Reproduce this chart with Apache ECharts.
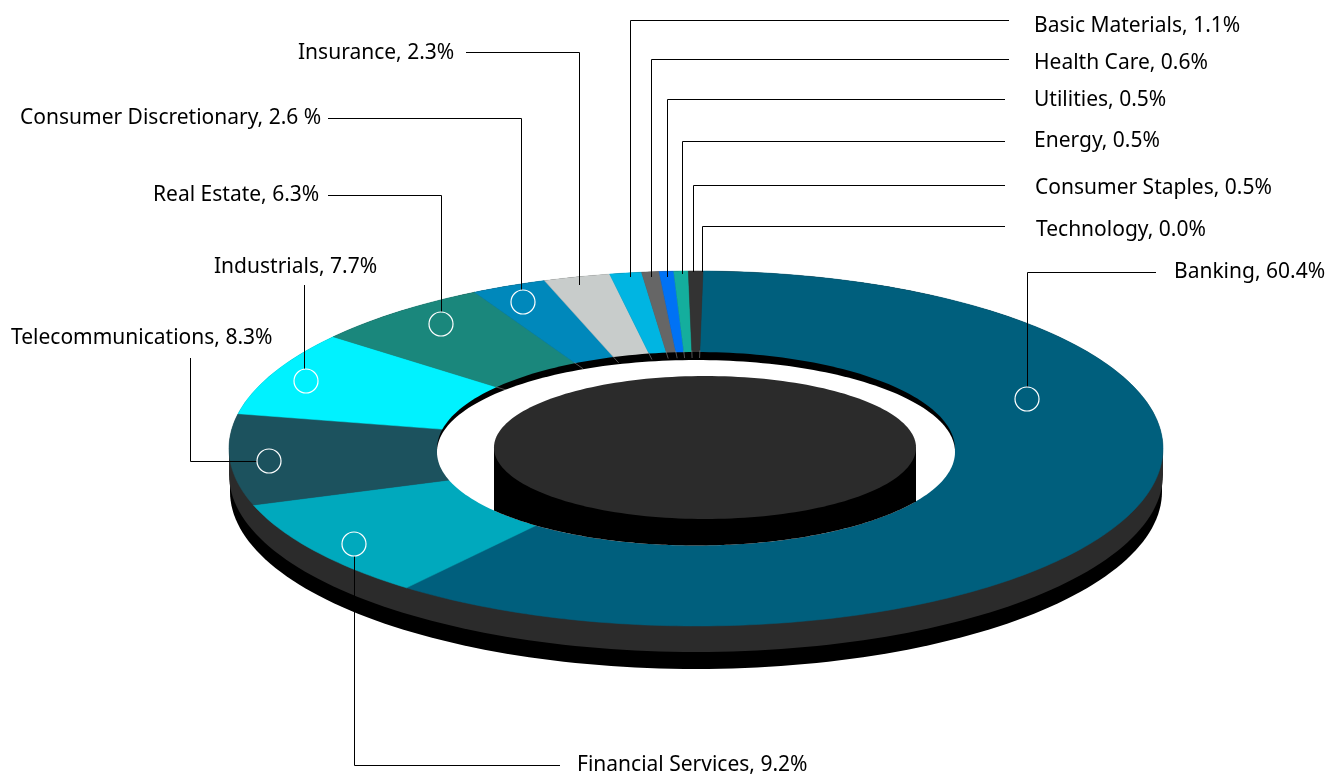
<!DOCTYPE html>
<html>
<head>
<meta charset="utf-8">
<style>html,body{margin:0;padding:0;background:#fff}#c{width:1327px;height:775px}</style>
<script src="https://cdn.jsdelivr.net/npm/echarts@6/dist/echarts.min.js"></script>
</head>
<body>
<div id="c"></div>
<script>
// ---- data ----
const categories = ['Banking','Financial Services','Telecommunications','Industrials','Real Estate','Consumer Discretionary','Insurance','Basic Materials','Health Care','Utilities','Energy','Consumer Staples','Technology'];
const shares = [60.4,9.2,8.3,7.7,6.3,2.6,2.3,1.1,0.6,0.5,0.5,0.5,0.0];
const labels = ['Banking, 60.4%','Financial Services, 9.2%','Telecommunications, 8.3%','Industrials, 7.7%','Real Estate, 6.3%','Consumer Discretionary, 2.6 %','Insurance, 2.3%','Basic Materials, 1.1%','Health Care, 0.6%','Utilities, 0.5%','Energy, 0.5%','Consumer Staples, 0.5%','Technology, 0.0%'];

// ---- styles ----
const colors = ['#005f7d','#00a9bd','#1c525e','#00f2ff','#1a877c','#0088bb','#c8cccb','#00b5e2','#666666','#0072f5','#14ae9d','#333333','#333333'];
const FONT = '21px "Noto Sans"';

// ---- layout (plot coordinates) ----
const D = {cx:696, cy:448.5, rx:467, ry:177.5, inner:0.5, hole:0.555, start:0.86};
// annotation layout per category: elbow path, marker, text anchor
const annot = [
  {path:[[1027.5,387],[1027.5,272.5],[1156,272.5]], mark:[1027,399], text:[1174,272]},
  {path:[[354.5,556],[354.5,765.5],[560,765.5]], mark:[354,544], text:[577,765]},
  {path:[[257,461.5],[190.5,461.5],[190.5,358]], mark:[269,461], text:[11,338]},
  {path:[[304.5,369],[304.5,285]], mark:[306,381], text:[214,267]},
  {path:[[441.5,312],[441.5,195.5],[328,195.5]], mark:[441,324], text:[153,195]},
  {path:[[521.5,290],[521.5,118.5],[328,118.5]], mark:[523,302], text:[20,118]},
  {path:[[579.5,285],[579.5,52.5],[466,52.5]], text:[298,53]},
  {path:[[630.5,277],[630.5,20.5],[1009,20.5]], text:[1034,26]},
  {path:[[651.5,277],[651.5,59.5],[1009,59.5]], text:[1034,63]},
  {path:[[667.5,277],[667.5,99.5],[1005,99.5]], text:[1034,100]},
  {path:[[682.5,274],[682.5,141.5],[1005,141.5]], text:[1034,141]},
  {path:[[693.5,272],[693.5,185.5],[1005,185.5]], text:[1035,188]},
  {path:[[702.5,272],[702.5,226.5],[1005,226.5]], text:[1036,230]}
];

function ell(cx,cy,rx,ry,a0,a1,n){ // degrees clockwise from top
  const pts=[];
  for(let i=0;i<=n;i++){
    const a=(a0+(a1-a0)*i/n)*Math.PI/180;
    pts.push([cx+rx*Math.sin(a),cy-ry*Math.cos(a)]);
  }
  return pts;
}
function poly(api,pts,fill,stroke,lw){
  return {type:'polygon',shape:{points:pts.map(p=>api.coord(p))},
    style:{fill:fill,stroke:stroke||null,lineWidth:lw||0}};
}
function cumul(i){
  let s=0; for(let k=0;k<i;k++) s+=shares[k];
  return D.start+s/100*360;
}

function renderBase(params,api){
  const band=(dy,rx,c)=>poly(api,
    ell(D.cx,D.cy,rx,D.ry,-90,90,60).concat(ell(D.cx,D.cy+dy,rx,D.ry,90,270,120)),c);
  return {type:'group',children:[band(43,466,'#000000'),band(26,467,'#2b2b2b')]};
}
function renderSlice(params,api){
  const i=params.dataIndex;
  const v=api.value(0);
  if(!(v>0)) return {type:'group',children:[]};
  const a0=cumul(i), a1=a0+v/100*360;
  const n=Math.max(4,Math.ceil((a1-a0)));
  const outer=ell(D.cx,D.cy,D.rx,D.ry,a0,a1,n);
  const inn=ell(D.cx,D.cy,D.rx*D.inner,D.ry*D.inner,a1,a0,n);
  return poly(api,outer.concat(inn),colors[i],colors[i],0.5);
}
function renderHole(params,api){
  const kids=[];
  // black lip (upper inner wall)
  kids.push(poly(api,ell(696,449,259,97,-90,90,120),'#000000'));
  // faint seams across the lip
  for(let i=1;i<shares.length;i++){
    if(shares[i-1]<=0) continue;
    const a=cumul(i)*Math.PI/180;
    if(Math.cos(a)<0.35) continue;
    const p=r=>[D.cx+D.rx*r*Math.sin(a),D.cy-D.ry*r*Math.cos(a)];
    const A=api.coord(p(0.552)),B=api.coord(p(0.51));
    kids.push({type:'line',shape:{x1:A[0],y1:A[1],x2:B[0],y2:B[1]},style:{stroke:'#8a8a8a',lineWidth:0.6}});
  }
  // white opening: upper edge, then lower edge
  const hole=ell(696,452,259,92,-90,90,120).concat(ell(696,452,259,93.5,90,270,120));
  kids.push(poly(api,hole,'#ffffff'));
  // hub body, clipped by the opening's lower edge
  const low=ell(696,452,259,93.5,90,270,240).filter(p=>p[0]>=494&&p[0]<=916);
  const body=[[916,447.5],[916,low[0][1]]].concat(low,[[494,low[low.length-1][1]],[494,447.5]]);
  kids.push(poly(api,body,'#000000'));
  // hub top
  kids.push(poly(api,ell(705,447.5,211,71.5,0,360,200),'#2b2b2b'));
  return {type:'group',children:kids};
}
function renderAnnot(params,api){
  const i=params.dataIndex, a=annot[i];
  const kids=[{type:'polyline',shape:{points:a.path.map(p=>api.coord(p))},
    style:{fill:null,stroke:'#000000',lineWidth:1}}];
  if(a.mark){
    const m=api.coord(a.mark);
    kids.push({type:'circle',shape:{cx:m[0],cy:m[1],r:12},style:{fill:null,stroke:'#ffffff',lineWidth:1.2}});
  }
  const t=api.coord(a.text);
  kids.push({type:'text',style:{x:t[0],y:t[1],text:labels[i],font:FONT,fill:'#000000',textAlign:'left',textVerticalAlign:'middle'}});
  return {type:'group',children:kids};
}

const chart=echarts.init(document.getElementById('c'),null,{renderer:'canvas'});
const custom=(render,data,z)=>({type:'custom',coordinateSystem:'cartesian2d',renderItem:render,data:data,z:z,clip:false,silent:true,animation:false,encode:{x:-1,y:-1}});
chart.setOption({
  animation:false,
  backgroundColor:'#ffffff',
  grid:{left:0,right:0,top:0,bottom:0},
  xAxis:{type:'value',min:0,max:1327,show:false},
  yAxis:{type:'value',min:0,max:775,inverse:true,show:false},
  series:[
    custom(renderBase,[[0]],1),
    custom(renderSlice,shares.map((v,i)=>({name:categories[i],value:[v]})),2),
    custom(renderHole,[[0]],3),
    custom(renderAnnot,categories.map((c,i)=>({name:c,value:[shares[i]]})),4)
  ]
});
</script>
</body>
</html>
